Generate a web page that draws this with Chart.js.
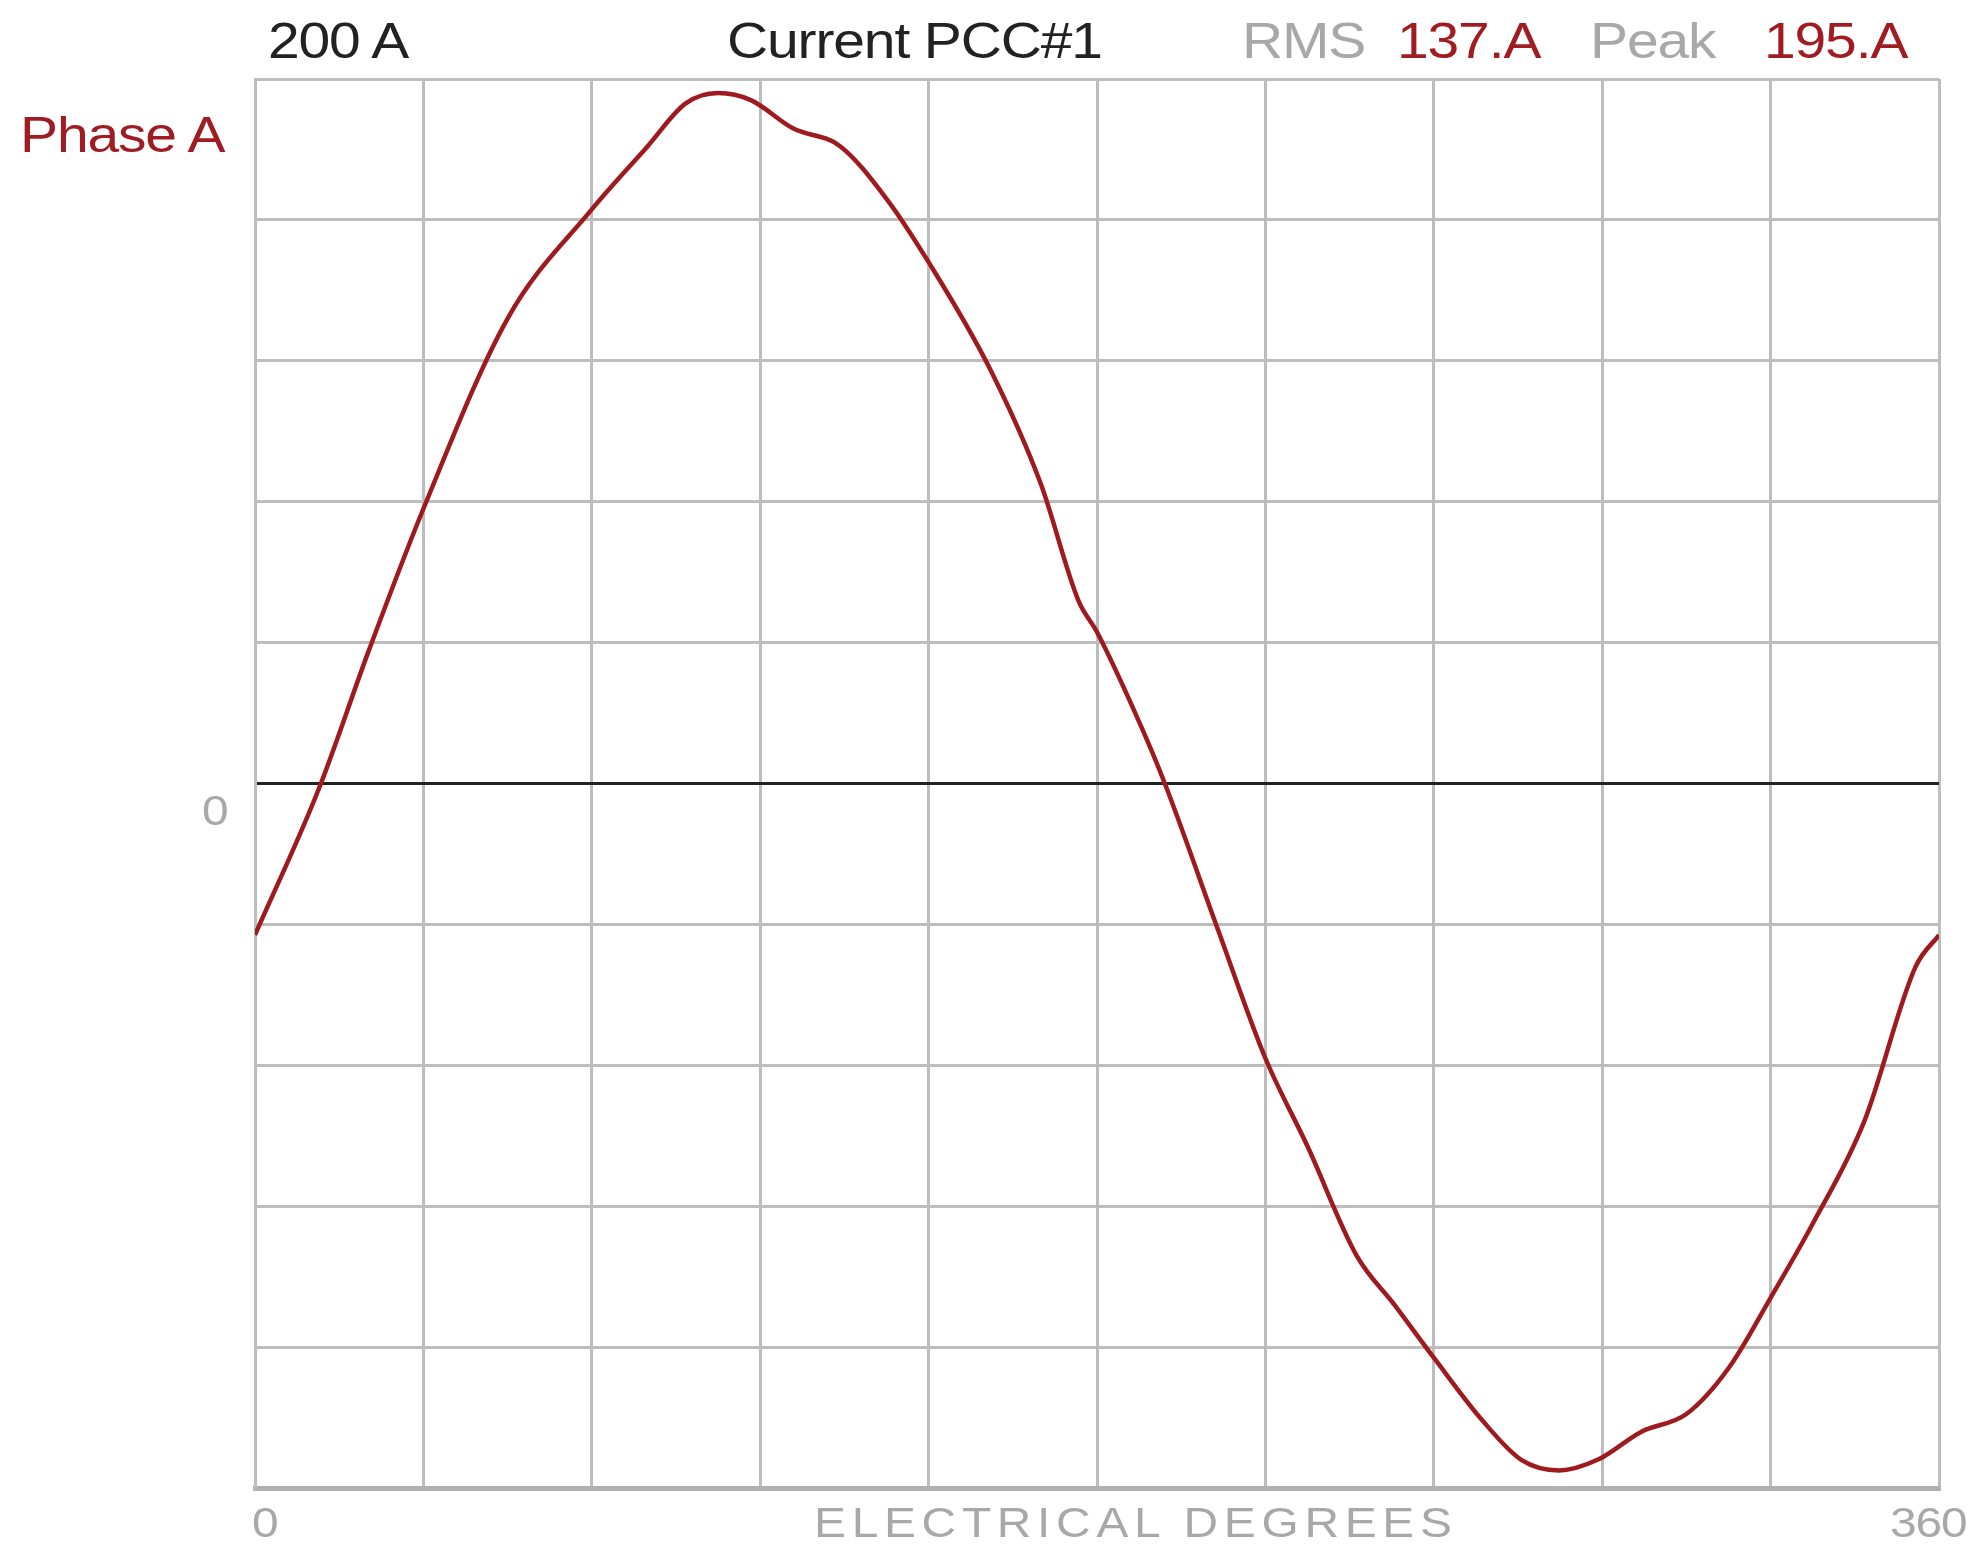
<!DOCTYPE html>
<html>
<head>
<script src="https://cdn.jsdelivr.net/npm/chart.js@4.4.0/dist/chart.umd.min.js"></script>
<style>
  body { margin:0; background:#fff; font-family:"Liberation Sans", Arial, sans-serif; }
  #wrap { position:relative; width:1987px; height:1553px; }
  .t { position:absolute; font-size:50px; line-height:1; white-space:nowrap; letter-spacing:-1px;
       transform:scaleX(1.14); transform-origin:left top; }
  .red { color:#a01c22; }
  .gray { color:#a8a8a8; }
  .s { font-size:42px; }
</style>
</head>
<body>
<div id="wrap">
  <canvas id="c" width="1987" height="1553"></canvas>
  <div class="t" style="left:268px;top:16px;color:#222">200 A</div>
  <div class="t" style="left:727px;top:16px;color:#222">Current PCC#1</div>
  <div class="t gray" style="left:1242px;top:16px">RMS</div>
  <div class="t red" style="left:1397px;top:16px">137.A</div>
  <div class="t gray" style="left:1590px;top:16px">Peak</div>
  <div class="t red" style="left:1764px;top:16px">195.A</div>
  <div class="t red" style="left:20px;top:110px">Phase A</div>
  <div class="t gray s" style="left:202px;top:790px">0</div>
  <div class="t gray s" style="left:252px;top:1502px">0</div>
  <div class="t gray s" style="left:814px;top:1502px;letter-spacing:5px">ELECTRICAL DEGREES</div>
  <div class="t gray s" style="left:1890px;top:1502px">360</div>
</div>
<script>
// waveform: degrees / amps
const degrees = [0, 13.5, 24.4, 36, 54, 72, 84, 92, 99, 106, 115, 125, 135, 144, 157, 168, 176, 180,
  189.5, 194.5, 206, 216, 225, 235.5, 243.6, 252, 262.5, 270.7, 278.8, 287, 296.4, 306, 315, 324, 333, 344, 355, 360];
const amps = [-43, -2, 38, 78, 132, 163, 181, 193, 196, 194, 186, 181, 166, 148, 118, 85, 52, 43,
  16, 0, -42, -78, -103, -134, -148, -163, -181, -192, -195, -192, -184, -179, -166, -146, -125, -96, -52, -43];

const points = degrees.map((d, i) => ({ x: d, y: amps[i] }));

new Chart(document.getElementById("c"), {
  type: "line",
  data: {
    datasets: [{
      label: "Phase A",
      data: points,
      borderColor: "#9e1a1f",
      borderWidth: 4.5,
      pointRadius: 0,
      cubicInterpolationMode: "monotone"
    }]
  },
  options: {
    responsive: false,
    animation: false,
    layout: { padding: { left: 255, right: 48, top: 79, bottom: 65 } },
    plugins: { legend: { display: false }, tooltip: { enabled: false } },
    scales: {
      x: {
        type: "linear", min: 0, max: 360,
        ticks: { display: false, stepSize: 36 },
        grid: { color: "#bdbdbd", lineWidth: 3, drawTicks: false },
        border: { color: "#b0b0b0", width: 5 }
      },
      y: {
        min: -200, max: 200,
        ticks: { display: false, stepSize: 40 },
        grid: {
          color: (c) => c.tick && c.tick.value === 0 ? "#222" : "#bdbdbd",
          lineWidth: 3, drawTicks: false
        },
        border: { color: "#bdbdbd", width: 3 }
      }
    }
  }
});
</script>
</body>
</html>
